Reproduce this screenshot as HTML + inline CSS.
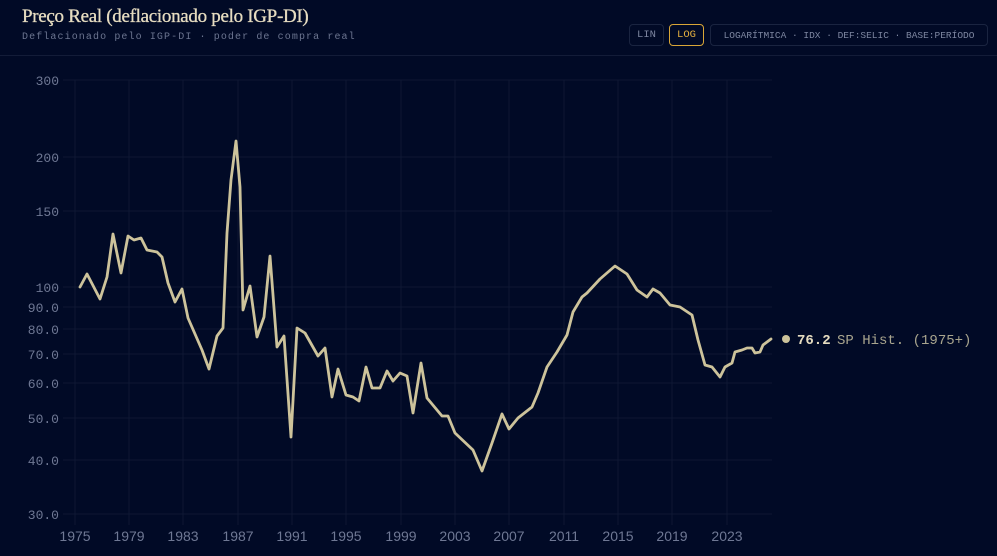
<!DOCTYPE html>
<html><head><meta charset="utf-8"><style>
body{margin:0;width:997px;height:556px;background:#010a26;overflow:hidden;font-family:"Liberation Mono",monospace;}
.t{position:absolute;left:22px;top:6px;font-family:"Liberation Serif",serif;font-size:19px;color:#e6dcc0;letter-spacing:-0.3px;-webkit-text-stroke:0.3px #e6dcc0}
.s{position:absolute;left:22px;top:32px;font-size:10px;color:#6c7590;letter-spacing:1.1px}
.b{position:absolute;top:24px;height:20px;font-size:10.5px;border:1px solid #1a2440;border-radius:4px;color:#7d86a0;font-family:"Liberation Mono",monospace;display:flex;align-items:center;justify-content:center;white-space:nowrap}
</style></head><body>
<div class="t">Preço Real (deflacionado pelo IGP-DI)</div>
<div class="s">Deflacionado pelo IGP-DI · poder de compra real</div>
<div class="b" style="left:629px;width:33px">LIN</div>
<div class="b" style="left:669px;width:33px;border-color:#d9a637;color:#e4b040">LOG</div>
<div class="b" style="left:710px;width:276px;font-size:9.5px">LOGARÍTMICA · IDX · DEF:SELIC · BASE:PERÍODO</div>
<svg width="997" height="556" style="position:absolute;left:0;top:0">
<line x1="0" y1="55.5" x2="997" y2="55.5" stroke="#131c38"/>
<g stroke="#0e1733" stroke-width="1">
<line x1="63" x2="772" y1="80" y2="80"/><line x1="63" x2="772" y1="157" y2="157"/><line x1="63" x2="772" y1="211" y2="211"/><line x1="63" x2="772" y1="287" y2="287"/><line x1="63" x2="772" y1="307" y2="307"/><line x1="63" x2="772" y1="329" y2="329"/><line x1="63" x2="772" y1="354" y2="354"/><line x1="63" x2="772" y1="383" y2="383"/><line x1="63" x2="772" y1="418" y2="418"/><line x1="63" x2="772" y1="460" y2="460"/><line x1="63" x2="772" y1="514" y2="514"/>
<line x1="75" x2="75" y1="80" y2="525"/><line x1="129" x2="129" y1="80" y2="525"/><line x1="183" x2="183" y1="80" y2="525"/><line x1="238" x2="238" y1="80" y2="525"/><line x1="292" x2="292" y1="80" y2="525"/><line x1="346" x2="346" y1="80" y2="525"/><line x1="401" x2="401" y1="80" y2="525"/><line x1="455" x2="455" y1="80" y2="525"/><line x1="509" x2="509" y1="80" y2="525"/><line x1="564" x2="564" y1="80" y2="525"/><line x1="618" x2="618" y1="80" y2="525"/><line x1="672" x2="672" y1="80" y2="525"/><line x1="727" x2="727" y1="80" y2="525"/>
</g>
<g fill="#6f7894" font-size="13" text-anchor="end" font-family="Liberation Mono,monospace">
<text x="59" y="85">300</text><text x="59" y="162">200</text><text x="59" y="216">150</text><text x="59" y="292">100</text><text x="59" y="312">90.0</text><text x="59" y="334">80.0</text><text x="59" y="359">70.0</text><text x="59" y="388">60.0</text><text x="59" y="423">50.0</text><text x="59" y="465">40.0</text><text x="59" y="519">30.0</text>
</g>
<g fill="#6f7894" font-size="14" text-anchor="middle" font-family="Liberation Sans,sans-serif">
<text x="75" y="541">1975</text><text x="129" y="541">1979</text><text x="183" y="541">1983</text><text x="238" y="541">1987</text><text x="292" y="541">1991</text><text x="346" y="541">1995</text><text x="401" y="541">1999</text><text x="455" y="541">2003</text><text x="509" y="541">2007</text><text x="564" y="541">2011</text><text x="618" y="541">2015</text><text x="672" y="541">2019</text><text x="727" y="541">2023</text>
</g>
<polyline fill="none" stroke="#cdc39b" stroke-width="2.8" stroke-linejoin="round" stroke-linecap="round" points="80,287 87,274 100,299 107,277 113,234 121,273 128,236 134,240 141,238 147,250 157,252 162,257 168,283 175,302 182,289 188,318 202,350 209,369 217,336 223,328 227,233 231,180 236,141 240,187 243,310 250,286 257,337 264,317 270,256 277,347 284,336 291,437 297,328 305,333 318,356 325,348 332,397 338,369 346,395 353,397 359,401 366,367 372,388 380,388 387,371 393,381 400,373 407,376 413,413 421,363 427,398 442,416 448,416 455,433 473,450 482,471 492,443 502,414 509,429 518,418 532,407 538,393 547,367 557,352 567,335 573,312 582,297 587,293 600,279 615,266 627,274 637,290 647,297 653,289 660,293 670,305 680,307 692,315 698,340 705,365 712,367 720,377 725,367 732,363 735,352 742,350 747,348 752,348 755,353 760,352 763,345 771,339"/>
<circle cx="786" cy="339" r="4" fill="#cdc39b"/>
<text x="797" y="344" font-size="14" fill="#e6dcc0" font-weight="bold" font-family="Liberation Mono,monospace">76.2</text>
<text x="837" y="344" font-size="14" fill="#a9a58e" font-family="Liberation Mono,monospace">SP Hist. (1975+)</text>
</svg>
</body></html>
